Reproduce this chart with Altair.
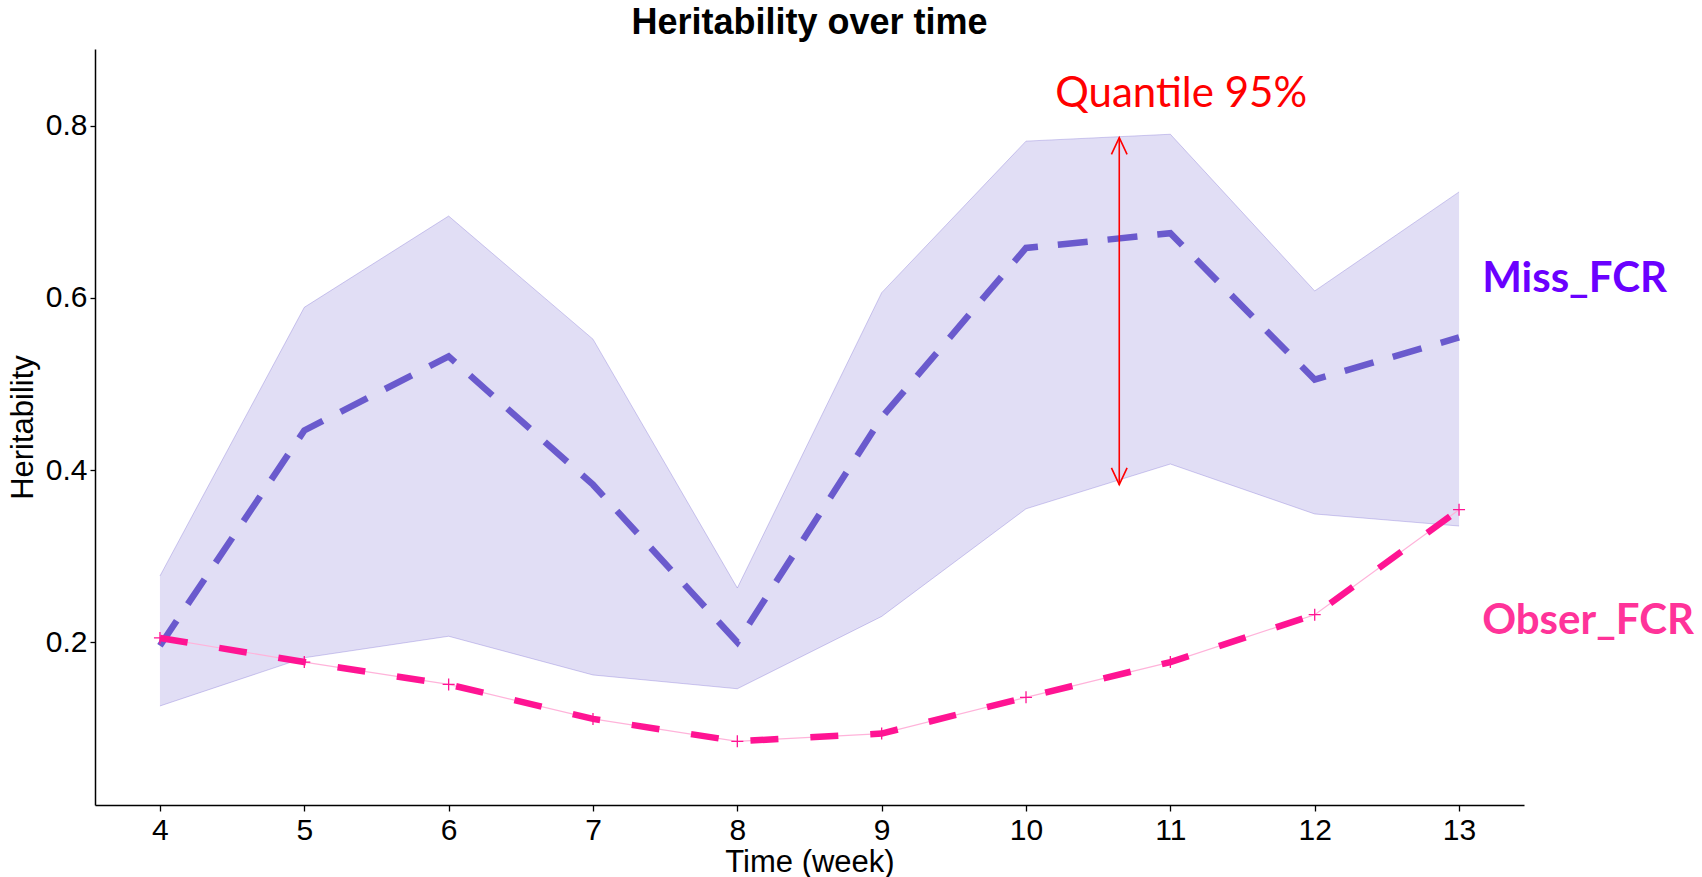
import altair as alt
import pandas as pd

weeks = [4, 5, 6, 7, 8, 9, 10, 11, 12, 13]
miss_mean = [0.196, 0.446, 0.532, 0.383, 0.200, 0.461, 0.658, 0.675, 0.505, 0.554]
miss_upper = [0.277, 0.589, 0.695, 0.552, 0.263, 0.606, 0.782, 0.790, 0.608, 0.723]
miss_lower = [0.126, 0.182, 0.207, 0.162, 0.146, 0.230, 0.355, 0.407, 0.349, 0.335]
obser = [0.205, 0.177, 0.151, 0.111, 0.085, 0.094, 0.136, 0.177, 0.232, 0.354]
y_ticks = [0.2, 0.4, 0.6, 0.8]

df = pd.DataFrame({"week": weeks, "mean": miss_mean, "upper": miss_upper,
                   "lower": miss_lower, "obser": obser})

arrow_df = pd.DataFrame({"week": [10.646], "top": [0.786], "bottom": [0.383]})
labels_df = pd.DataFrame({
    "week": [11.075, 13.16, 13.16],
    "val": [0.837, 0.622, 0.225],
    "text": ["Quantile 95%", "Miss_FCR", "Obser_FCR"],
})

xs = alt.Scale(domain=[3.55, 13.45], nice=False, zero=False)
ys = alt.Scale(domain=[0.011, 0.889], nice=False, zero=False)

axis_style = dict(grid=False, domainColor="black", domainWidth=1.5,
                  tickColor="black", tickWidth=1.3, labelColor="black",
                  titleColor="black", labelFont="Liberation Sans",
                  titleFont="Liberation Sans", titleFontWeight="normal",
                  labelFontSize=30, titleFontSize=31)

x_axis = alt.Axis(values=weeks, title="Time (week)", format="d",
                  labelPadding=4, titlePadding=2, tickSize=6, **axis_style)
y_axis = alt.Axis(values=y_ticks, title="Heritability", format=".1f",
                  labelPadding=3, titlePadding=6, tickSize=5, **axis_style)

X = alt.X("week:Q", scale=xs, axis=x_axis)

def Y(field):
    return alt.Y(f"{field}:Q", scale=ys, axis=y_axis)

base = alt.Chart(df)

band = base.mark_area(color="#6A5ACD", opacity=0.2).encode(
    x=X, y=Y("upper"), y2="lower:Q")
edge_up = base.mark_line(color="#6A5ACD", strokeOpacity=0.3, strokeWidth=1).encode(
    x=X, y=Y("upper"))
edge_lo = base.mark_line(color="#6A5ACD", strokeOpacity=0.3, strokeWidth=1).encode(
    x=X, y=Y("lower"))
miss_line = base.mark_line(color="#6A5ACD", strokeWidth=6.5, strokeDash=[30, 20],
                           strokeCap="butt").encode(x=X, y=Y("mean"))
obs_thin = base.mark_line(color="#FFB3DA", strokeWidth=1.2).encode(x=X, y=Y("obser"))
obs_dash = base.mark_line(color="#FF1493", strokeWidth=6.5, strokeDash=[28, 32],
                          strokeCap="butt").encode(x=X, y=Y("obser"))
obs_pts = base.mark_point(shape="M-1,0L1,0M0,-1L0,1", filled=False, color="#FF1493",
                          strokeWidth=1.3, size=144, opacity=1).encode(x=X, y=Y("obser"))

arr = alt.Chart(arrow_df)
arrow_rule = arr.mark_rule(color="#FF0000", strokeWidth=1.6).encode(
    x=X, y=Y("top"), y2="bottom:Q")
head_top = arr.mark_point(shape="M-0.7,1.5L0,0L0.7,1.5", filled=False, color="#FF0000",
                          strokeWidth=1.6, size=500, opacity=1).encode(x=X, y=Y("top"))
head_bot = arr.mark_point(shape="M-0.7,-1.5L0,0L0.7,-1.5", filled=False, color="#FF0000",
                          strokeWidth=1.6, size=500, opacity=1).encode(x=X, y=Y("bottom"))

lab = alt.Chart(labels_df)
t_q = lab.transform_filter(alt.datum.text == "Quantile 95%").mark_text(
    font="Lato", fontSize=42, color="#FF0000", align="center", baseline="middle"
).encode(x=X, y=Y("val"), text="text:N")
t_m = lab.transform_filter(alt.datum.text == "Miss_FCR").mark_text(
    font="Lato", fontSize=42, fontWeight="bold", color="#6A00FF", align="left",
    baseline="middle").encode(x=X, y=Y("val"), text="text:N")
t_o = lab.transform_filter(alt.datum.text == "Obser_FCR").mark_text(
    font="Lato", fontSize=42, fontWeight="bold", color="#FF3399", align="left",
    baseline="middle").encode(x=X, y=Y("val"), text="text:N")

chart = alt.layer(
    band, edge_up, edge_lo, miss_line, obs_thin, obs_dash, obs_pts,
    arrow_rule, head_top, head_bot, t_q, t_m, t_o
).properties(
    width=1429, height=756,
    title=alt.TitleParams("Heritability over time", font="Liberation Sans",
                          fontSize=36, fontWeight="bold", anchor="middle",
                          offset=7, color="black"),
    padding={"left": 95, "top": 49, "right": 178, "bottom": 72},
    autosize=alt.AutoSizeParams(type="none"),
    background="white",
).configure_view(stroke=None)

chart.save("out.html", embed_options={"renderer": "svg", "actions": False})
